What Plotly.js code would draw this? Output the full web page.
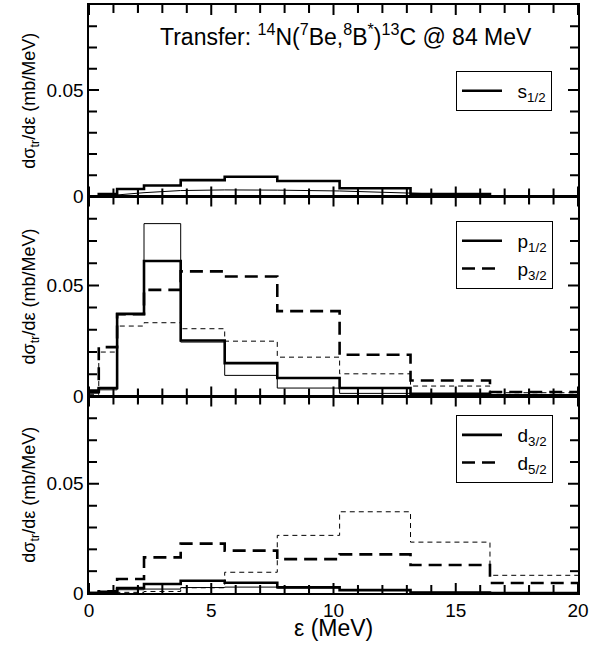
<!DOCTYPE html>
<html>
<head>
<meta charset="utf-8">
<script src="https://cdn.plot.ly/plotly-3.0.1.min.js"></script>
<style>html,body{margin:0;padding:0;background:#fff;}#chart{width:603px;height:647px;}</style>
</head>
<body>
<div id="chart"></div>
<script>
// Energy bin edges (MeV)
const binEdges = [0, 0.4, 1.15, 2.25, 3.75, 5.55, 7.7, 10.25, 13.15, 16.4, 20];

// Top panel: s1/2
const s12Thick = [0, 0.0012, 0.0035, 0.0052, 0.0077, 0.0093, 0.0073, 0.0039, 0.0011, 0];
const s12ThinX = [0.4, 1.15, 2.25, 3.75, 5.55, 7.7, 10.25, 13.15, 16.4, 20];
const s12ThinY = [0, 0.0008, 0.0018, 0.0028, 0.0031, 0.003, 0.0026, 0.0016, 0.0003, 0];

// Middle panel: p1/2, p3/2
const p12Thick = [0.002, 0.0038, 0.0372, 0.061, 0.0252, 0.015, 0.0083, 0.0038, 0.0012, 0.0005];
const p12Thin  = [0.0015, 0.003, 0.037, 0.0778, 0.0245, 0.0095, 0.0038, 0.0014, 0.0008, 0.0003];
const p32Thick = [0.0027, 0.0222, 0.037, 0.048, 0.0563, 0.054, 0.0384, 0.0188, 0.0072, 0.002];
const p32Thin  = [0.001, 0.020, 0.0317, 0.0332, 0.0305, 0.0249, 0.0177, 0.0102, 0.0047, 0.0017];

// Bottom panel: d3/2, d5/2
const d32Thick = [0, 0.0005, 0.0023, 0.0041, 0.0056, 0.0047, 0.0026, 0.0013, 0.0002, 0];
const d32Thin  = [0, 0.0003, 0.0015, 0.0018, 0.0025, 0.0027, 0.0022, 0.0012, 0.0003, 0];
const d52Thick = [0, 0.0008, 0.0064, 0.0163, 0.0226, 0.0194, 0.0155, 0.0177, 0.0128, 0.0046];
const d52Thin  = [0, 0, 0.0003, 0.0007, 0.0024, 0.0095, 0.0264, 0.0372, 0.0233, 0.0081];

// Axis ranges, tick positions and labels
const xRange = [0, 20];
const yRange = [0, 0.09];
const xTickVals = [0,1,2,3,4,5,6,7,8,9,10,11,12,13,14,15,16,17,18,19,20];
const xTickText = ['0','','','','','5','','','','','10','','','','','15','','','','','20'];
const yTickVals = [0, 0.01, 0.02, 0.03, 0.04, 0.05, 0.06, 0.07, 0.08];
const yTickText = ['0', '', '', '', '', '0.05', '', '', ''];

function stepY(v){ return v.concat([v[v.length-1]]); }

const thick = 2.6, thin = 1;
const longDash = '13px,7px', shortDash = '5px,4px';
const gap = '\u00a0\u00a0';

function hist(vals, xa, ya, width, dash, name, legend, show){
  return {
    x: binEdges, y: stepY(vals), xaxis: xa, yaxis: ya,
    type: 'scatter', mode: 'lines',
    line: {shape: 'hv', color: '#000', width: width, dash: dash},
    name: name, legend: legend, showlegend: show, hoverinfo: 'skip'
  };
}

const traces = [
  hist(s12Thick, 'x', 'y', thick, 'solid', gap + 's<sub>1/2</sub>', 'legend', true),
  {x: s12ThinX, y: s12ThinY, xaxis: 'x', yaxis: 'y', type: 'scatter', mode: 'lines',
   line: {color: '#000', width: thin}, showlegend: false, hoverinfo: 'skip'},

  hist(p12Thin, 'x2', 'y2', thin, 'solid', '', 'legend2', false),
  hist(p32Thin, 'x2', 'y2', thin, shortDash, '', 'legend2', false),
  hist(p12Thick, 'x2', 'y2', thick, 'solid', gap + 'p<sub>1/2</sub>', 'legend2', true),
  hist(p32Thick, 'x2', 'y2', thick, longDash, gap + 'p<sub>3/2</sub>', 'legend2', true),

  hist(d32Thin, 'x3', 'y3', thin, 'solid', '', 'legend3', false),
  hist(d52Thin, 'x3', 'y3', thin, shortDash, '', 'legend3', false),
  hist(d32Thick, 'x3', 'y3', thick, 'solid', gap + 'd<sub>3/2</sub>', 'legend3', true),
  hist(d52Thick, 'x3', 'y3', thick, longDash, gap + 'd<sub>5/2</sub>', 'legend3', true)
];

const font = 'Liberation Sans, Arial, sans-serif';

function xax(anchor, labels){
  const a = {
    anchor: anchor, range: xRange, tickmode: 'array', tickvals: xTickVals, ticktext: xTickText,
    ticks: 'inside', ticklen: 7, tickwidth: 1.2, tickcolor: '#000',
    showline: true, linecolor: '#000', linewidth: 1.6, mirror: 'ticks',
    showgrid: false, zeroline: false, showticklabels: labels,
    tickfont: {family: font, size: 19, color: '#000'}
  };
  if (anchor !== 'y3') a.matches = 'x3';
  return a;
}
const yTitle = 'd\u03c3<sub>tr</sub>/d\u03b5 (mb/MeV)';
function yax(anchor, domain){
  return {
    anchor: anchor, domain: domain, range: yRange, tickmode: 'array', tickvals: yTickVals, ticktext: yTickText,
    ticks: 'inside', ticklen: 7, tickwidth: 1.2, tickcolor: '#000',
    showline: true, linecolor: '#000', linewidth: 1.6, mirror: 'ticks',
    showgrid: false, zeroline: false,
    tickfont: {family: font, size: 19, color: '#000'},
    title: {text: yTitle, font: {family: font, size: 18, color: '#000'}, standoff: 6}
  };
}
function leg(ytop){
  return {
    x: 0.7505, y: ytop, xanchor: 'left', yanchor: 'top', xref: 'paper', yref: 'paper',
    bgcolor: '#fff', bordercolor: '#000', borderwidth: 1,
    font: {family: font, size: 19, color: '#000'}, itemwidth: 40, tracegroupgap: 0
  };
}

// Tick marks on all four sides of each panel, drawn from the tick arrays
const tickShapes = [];
[['x','y'], ['x2','y2'], ['x3','y3']].forEach(function(p){
  xTickVals.forEach(function(v){
    const len = (v % 5 === 0) ? 10 : 8;
    [[yRange[0], len], [yRange[1], -len]].forEach(function(s){
      tickShapes.push({type: 'line', xref: p[0], yref: p[1], x0: v, x1: v,
        ysizemode: 'pixel', yanchor: s[0], y0: 0, y1: s[1],
        line: {color: '#000', width: 2}, layer: 'above'});
    });
  });
  yTickVals.forEach(function(v, i){
    const len = (yTickText[i] !== '') ? 10 : 8;
    [[xRange[0], len], [xRange[1], -len]].forEach(function(s){
      tickShapes.push({type: 'line', xref: p[0], yref: p[1], y0: v, y1: v,
        xsizemode: 'pixel', xanchor: s[0], x0: 0, x1: s[1],
        line: {color: '#000', width: 2}, layer: 'above'});
    });
  });
});

const layout = {
  width: 603, height: 647,
  margin: {l: 89, r: 25, t: 5, b: 54},
  paper_bgcolor: '#fff', plot_bgcolor: '#fff',
  showlegend: true,
  xaxis: xax('y', false),
  xaxis2: xax('y2', false),
  xaxis3: xax('y3', true),
  yaxis: yax('x', [0.6743, 1]),
  yaxis2: yax('x2', [0.3342, 0.6743]),
  yaxis3: yax('x3', [0, 0.3342]),
  legend: leg(0.888),
  legend2: leg(0.6327),
  legend3: leg(0.3027),
  shapes: tickShapes,
  annotations: [{
    xref: 'paper', yref: 'paper', x: 0.5256, y: 0.949, xanchor: 'center', yanchor: 'middle',
    showarrow: false,
    text: 'Transfer: <sup>14</sup>N(<sup>7</sup>Be,<sup>8</sup>B<sup>*</sup>)<sup>13</sup>C @ 84 MeV',
    font: {family: font, size: 23, color: '#000'}
  }, {
    xref: 'paper', yref: 'paper', x: 0.5, y: -0.06, xanchor: 'center', yanchor: 'middle',
    showarrow: false, text: '\u03b5 (MeV)',
    font: {family: font, size: 23, color: '#000'}
  }]
};

Plotly.newPlot('chart', traces, layout, {staticPlot: true, displayModeBar: false});
</script>
</body>
</html>
